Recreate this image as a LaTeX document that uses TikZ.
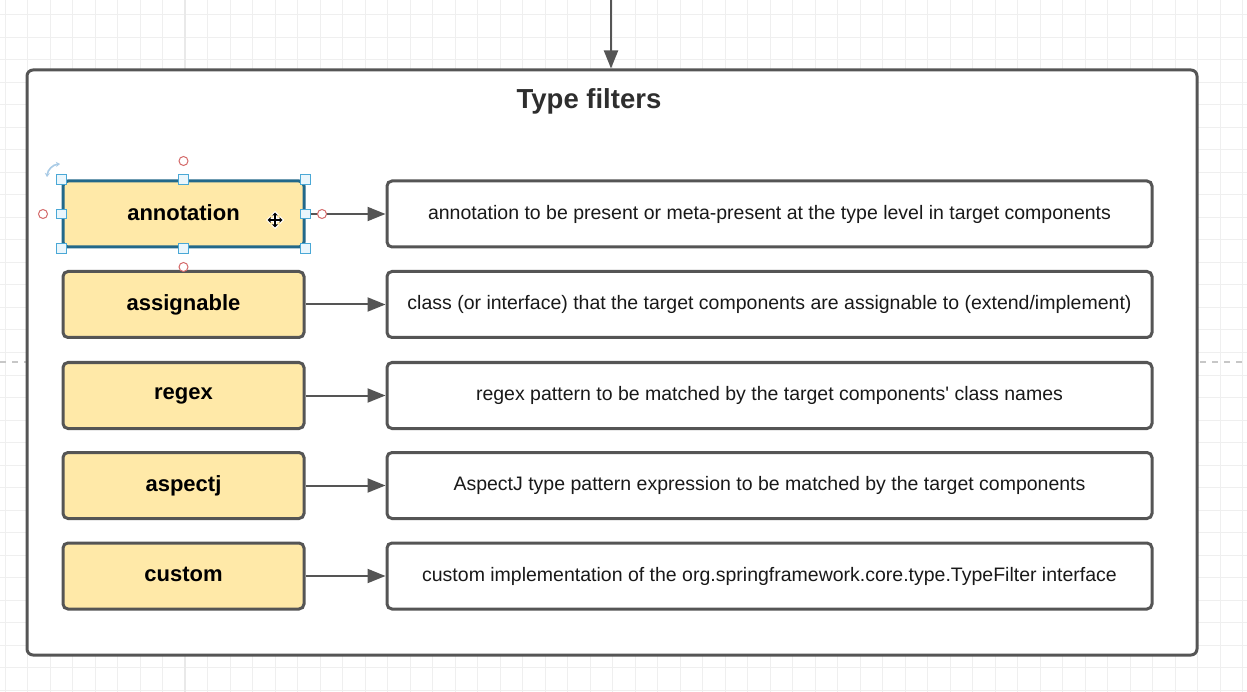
\documentclass[tikz,border=0pt]{standalone}
\usepackage{fontspec}
\setmainfont{Liberation Sans}
\usetikzlibrary{arrows.meta}
\definecolor{edge}{HTML}{555555}
\definecolor{fillY}{HTML}{FFE9A8}
\definecolor{gridc}{HTML}{EFEFEF}
\definecolor{gridm}{HTML}{E9E9E9}
\definecolor{selc}{HTML}{22688A}
\definecolor{handle}{HTML}{4AA8D6}
\definecolor{handlef}{HTML}{EAF6FC}
\definecolor{pin}{HTML}{D46A6A}
\definecolor{rot}{HTML}{A9CBE6}
\tikzset{
  filterbox/.style={draw=edge, line width=3pt, rounded corners=5pt, fill=fillY,
    minimum width=241pt, minimum height=66pt, inner sep=0pt,
    font=\fontsize{22}{26}\selectfont\bfseries},
  descbox/.style={draw=edge, line width=3pt, rounded corners=5pt, fill=white,
    minimum width=765pt, minimum height=66pt, inner sep=0pt,
    font=\fontsize{19.5}{23}\selectfont, text=black!90},
  link/.style={draw=edge, line width=2pt, -{Triangle[length=18pt,width=14pt]}},
  sqhandle/.style={draw=handle, fill=handlef, line width=1pt, minimum size=9.5pt, inner sep=0pt},
  pinhandle/.style={circle, draw=pin, fill=white, line width=1pt, minimum size=9pt, inner sep=0pt}
}
\begin{document}
\begin{tikzpicture}[x=1pt,y=-1pt]
\useasboundingbox (0,0) rectangle (1247,692);
\fill[white] (0,0) rectangle (1247,692);
% canvas grid
\foreach \k in {0,...,55} \draw[gridc, line width=1pt] ({5+22.5*\k},0) -- ({5+22.5*\k},692);
\foreach \k in {0,...,30} \draw[gridc, line width=1pt] (0,{15+22.5*\k}) -- (1247,{15+22.5*\k});
\draw[gridm, line width=1.2pt] (185,0) -- (185,692);
\draw[black!22, dash pattern=on 6pt off 6pt, line width=1pt] (0,362) -- (1247,362);

% container
\node[draw=edge, line width=3pt, rounded corners=6pt, fill=white, minimum width=1170pt,
      minimum height=585pt, inner sep=0pt] (frame) at (612,362.5) {};
\node[font=\fontsize{27.5}{32}\selectfont\bfseries, text=black!82] (title) at (589,101) {Type filters};
\coordinate (entry) at (611,0);
\draw[link] (entry) -- (entry |- frame.north);

% filter kinds and their descriptions
\node[filterbox, draw=selc] (f1) at (183.5,214) {\raisebox{3pt}{annotation}};
\node[filterbox] (f2) at (183.5,304.5) {\raisebox{3pt}{assignable}};
\node[filterbox] (f3) at (183.5,395.5) {\raisebox{3pt}{regex}};
\node[filterbox] (f4) at (183.5,485.5) {\raisebox{3pt}{aspectj}};
\node[filterbox] (f5) at (183.5,576) {\raisebox{3pt}{custom}};

\node[descbox] (d1) at (769.5,214) {annotation to be present or meta-present at the type level in target components};
\node[descbox] (d2) at (769.5,304.5) {class (or interface) that the target components are assignable to (extend/implement)};
\node[descbox] (d3) at (769.5,395.5) {regex pattern to be matched by the target components\textquotesingle\ class names};
\node[descbox] (d4) at (769.5,485.5) {AspectJ type pattern expression to be matched by the target components};
\node[descbox] (d5) at (769.5,576) {custom implementation of the org.springframework.core.type.TypeFilter interface};

\foreach \i in {1,...,5} \draw[link] (f\i.east) -- (d\i.west);

% selection handles on the first box
\foreach \a in {north west,north,north east,west,east,south west,south,south east}
  \node[sqhandle] at (f1.\a) {};
\node[pinhandle] (p1) at (183.5,161) {};
\node[pinhandle] (p2) at (43,214) {};
\node[pinhandle] (p3) at (322,214) {};
\node[pinhandle] (p4) at (183.5,267) {};
% rotate handle
\draw[rot, line width=1.6pt, {Stealth[length=4pt,width=5pt]}-{Stealth[length=4pt,width=5pt]}]
  (47,177) to[bend left=40] (60,164);
% move cursor
\begin{scope}[shift={(275,220)}]
  \fill[white] (0,-9) -- (4,-5) -- (2,-5) -- (2,-2) -- (5,-2) -- (5,-4) -- (9,0) -- (5,4) -- (5,2) -- (2,2) -- (2,5) -- (4,5) -- (0,9) -- (-4,5) -- (-2,5) -- (-2,2) -- (-5,2) -- (-5,4) -- (-9,0) -- (-5,-4) -- (-5,-2) -- (-2,-2) -- (-2,-5) -- (-4,-5) -- cycle;
  \draw[black, line width=1.6pt] (0,-6) -- (0,6) (-6,0) -- (6,0);
  \fill[black] (0,-7.5) -- (2.8,-4.5) -- (-2.8,-4.5) -- cycle;
  \fill[black] (0,7.5) -- (2.8,4.5) -- (-2.8,4.5) -- cycle;
  \fill[black] (-7.5,0) -- (-4.5,2.8) -- (-4.5,-2.8) -- cycle;
  \fill[black] (7.5,0) -- (4.5,2.8) -- (4.5,-2.8) -- cycle;
\end{scope}
\end{tikzpicture}
\end{document}
